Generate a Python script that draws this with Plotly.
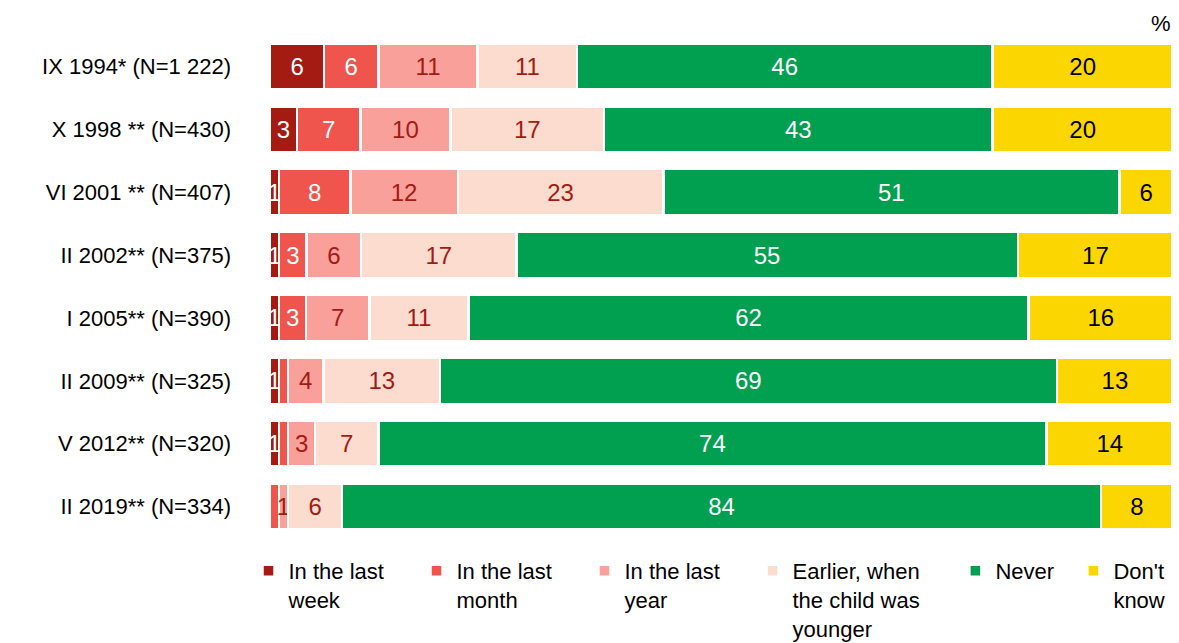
import plotly.graph_objects as go

categories = ["IX 1994* (N=1 222)", "X 1998 ** (N=430)", "VI 2001 ** (N=407)", "II 2002** (N=375)",
              "I 2005** (N=390)", "II 2009** (N=325)", "V 2012** (N=320)", "II 2019** (N=334)"]
series_names = ["In the last<br>week", "In the last<br>month", "In the last<br>year",
                "Earlier, when<br>the child was<br>younger", "Never", "Don't<br>know"]
last_week = [6, 3, 1, 1, 1, 1, 1, 0]
last_month = [6, 7, 8, 3, 3, 1, 1, 1]
last_year = [11, 10, 12, 6, 7, 4, 3, 1]
earlier = [11, 17, 23, 17, 11, 13, 7, 6]
never = [46, 43, 51, 55, 62, 69, 74, 84]
dont_know = [20, 20, 6, 17, 16, 13, 14, 8]

series = [last_week, last_month, last_year, earlier, never, dont_know]
colors = ["#a31b12", "#ef554d", "#f9a09b", "#fddcd0", "#00a050", "#fcd600"]
text_colors = ["white", "white", "#a31b12", "#a31b12", "white", "black"]
legend_ids = ["legend", "legend", "legend", "legend", "legend2", "legend2"]

def label(v, i):
    if v == 0:
        return ""
    if v == 1 and i == 1:
        return ""
    return str(v)

fig = go.Figure()
for i, (name, vals) in enumerate(zip(series_names, series)):
    fig.add_trace(go.Bar(
        y=categories, x=vals, name=name, orientation="h",
        marker=dict(color=colors[i], line=dict(color="white", width=2.5)),
        text=[label(v, i) for v in vals], textposition="inside", insidetextanchor="middle",
        textfont=dict(color=text_colors[i], size=24, family="Liberation Sans"),
        constraintext="none", cliponaxis=False, legend=legend_ids[i],
    ))

legend_common = dict(orientation="h", yanchor="top", y=-0.024, valign="top",
                     font=dict(size=22), traceorder="normal", itemwidth=30,
                     entrywidthmode="pixels", bgcolor="rgba(0,0,0,0)")

# page body has an 8px margin; figure sized to fit the 1179x643 window
fig.update_layout(
    barmode="stack", barnorm="percent", bargap=0.27,
    width=1171, height=635,
    margin=dict(l=262, r=6, t=27, b=105, autoexpand=False),
    paper_bgcolor="white", plot_bgcolor="white",
    font=dict(family="Liberation Sans", size=22, color="black"),
    uniformtext=dict(minsize=24, mode="show"),
    xaxis=dict(range=[0, 100.001], visible=False, fixedrange=True),
    yaxis=dict(autorange="reversed", showgrid=False, showline=False, ticks="",
               ticklabelstandoff=38, tickfont=dict(size=22), automargin=False),
    showlegend=True,
    legend=dict(**legend_common, x=-0.0238, xanchor="left", entrywidth=123),
    legend2=dict(**legend_common, x=0.759, xanchor="left", entrywidth=73),
    annotations=[dict(text="%", x=1.0, xref="paper", y=1.0, yref="paper", yanchor="bottom",
                      xanchor="right", showarrow=False, font=dict(size=22), yshift=-3)],
)

fig.write_html("out.html")
